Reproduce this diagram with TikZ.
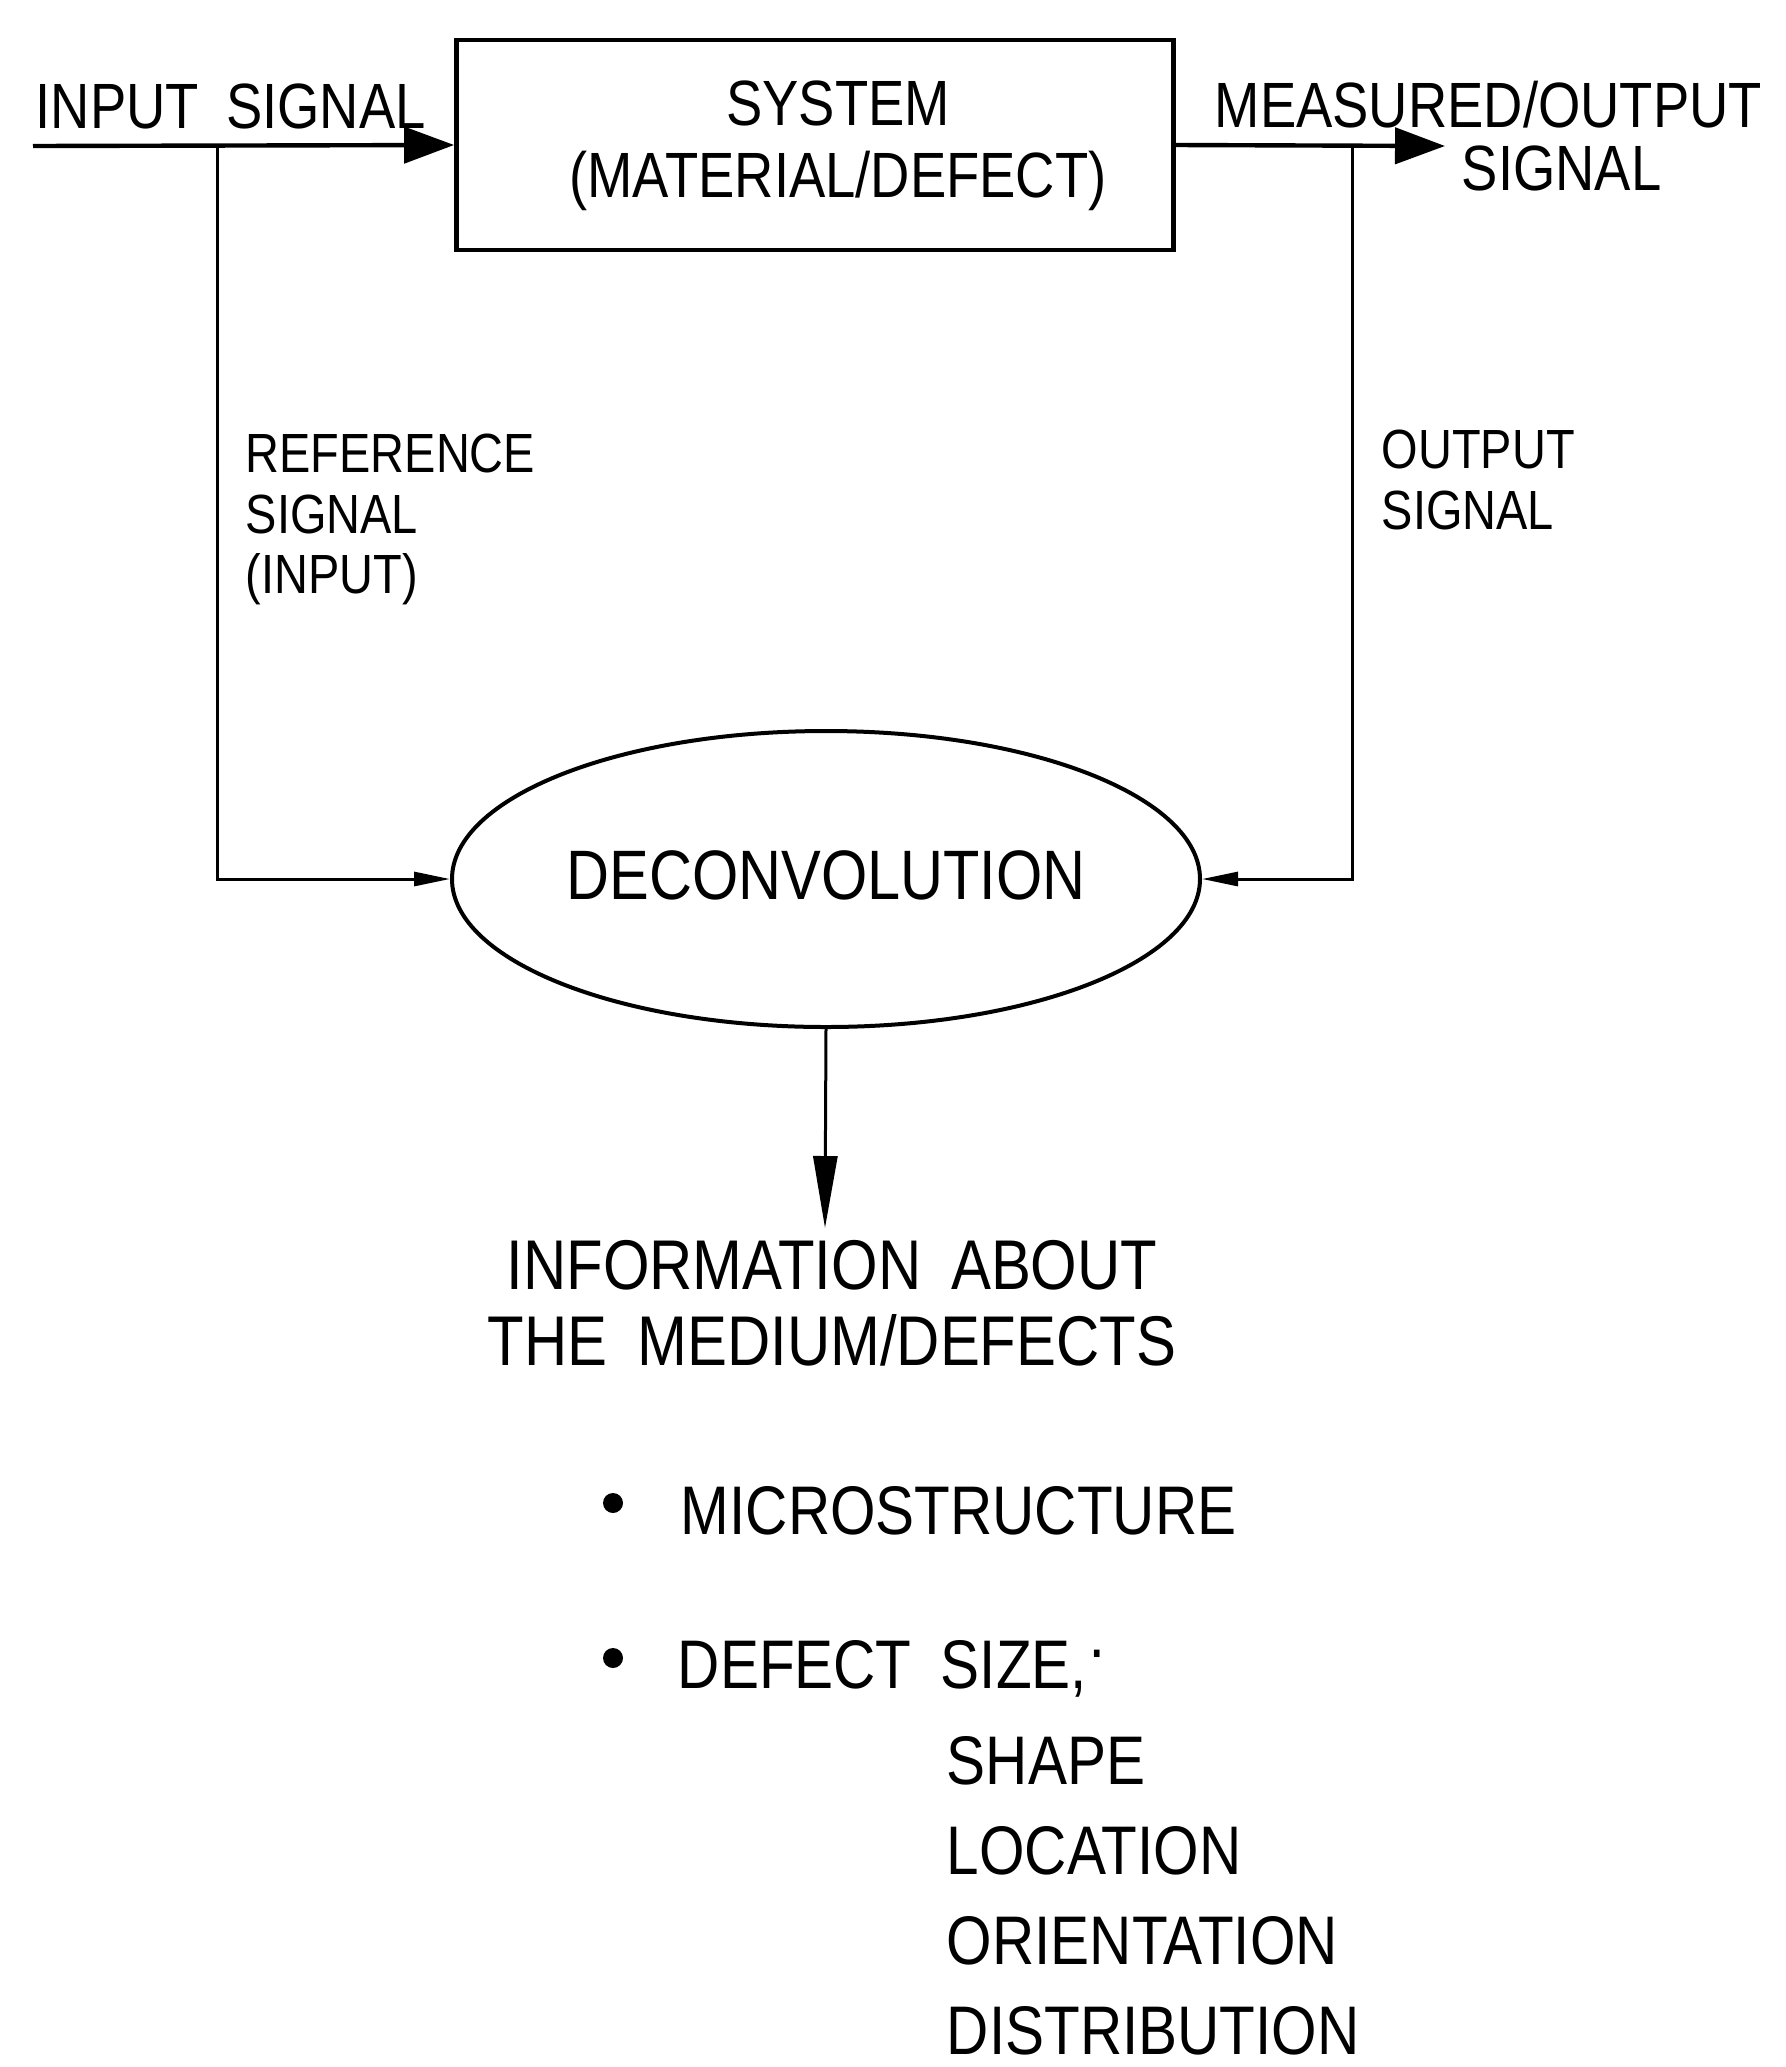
\documentclass[tikz,border=0pt]{standalone}
\usepackage{fontspec}
\setmainfont{Liberation Sans}[FakeStretch=0.85,WordSpace=1.8]
\usetikzlibrary{shapes.geometric,arrows.meta}

\tikzset{every picture/.style={line width=0.9pt}}

\begin{document}
\begin{tikzpicture}[x=0.25pt,y=0.25pt,yscale=-1,xscale=1,
  lbl/.style={inner sep=0pt,font=\fontsize{16}{18}\selectfont},
  side/.style={inner sep=0pt,align=left,font=\fontsize{13.8}{15.2}\selectfont},
  list/.style={inner sep=0pt,align=left,font=\fontsize{17.2}{22.5}\selectfont},
  sysbox/.style={draw,line width=1.2pt,rectangle,inner sep=0pt,minimum width=179.25pt,minimum height=52.5pt},
  oval/.style={draw,line width=1pt,ellipse,inner sep=0pt,minimum width=187pt,minimum height=74pt,font=\fontsize{17.5}{20}\selectfont},
  sig/.style={line width=1.1pt,-{Triangle[length=12.5pt,width=9pt]}},
  feed/.style={line width=0.75pt,-{Triangle[length=9pt,width=3.5pt]}},
  down/.style={line width=0.75pt,-{Triangle[length=18pt,width=6pt]}},
  dot/.style={circle,fill,inner sep=0pt,minimum size=5pt}]
%set diagram size to the 1786 x 2067 frame
\useasboundingbox (0,0) rectangle (1786,2067);

%Shape: System box
\node[sysbox] (sys) at (815,145) {};
%Shape: Deconvolution ellipse
\node[oval] (deconv) at (826,879) {\raisebox{2pt}{DECONVOLUTION}};

%Points on the signal line
\coordinate (in) at (33,146);
\coordinate (tapL) at (217,146);
\coordinate (tapR) at (1352,146);
\coordinate (outend) at (1445,146);
\coordinate (infotip) at (825,1228);

%Straight Lines
\draw[sig] (in) -- (sys.west);
\draw[sig] (sys.east) -- (outend);
\draw[feed] (tapL) |- (deconv.west);
\draw[feed] (tapR) |- (deconv.east);
\draw[down] (deconv.south) -- (infotip);

% Text Node
\node[lbl,anchor=base west] (insig) at (34,128) {INPUT SIGNAL};
% Text Node
\node[lbl,align=center] (systxt) at (838,146) {SYSTEM\\(MATERIAL/DEFECT)};
% Text Node
\node[lbl,anchor=base west] (meas) at (1213,127) {MEASURED/OUTPUT};
% Text Node
\node[lbl,anchor=base west] (meassig) at (1460,190) {SIGNAL};
% Text Node
\node[side,anchor=north west] (refsig) at (244,432) {REFERENCE\\SIGNAL\\(INPUT)};
% Text Node
\node[side,anchor=north west] (outsig) at (1380,428) {OUTPUT\\SIGNAL};
% Text Node
\node[inner sep=0pt,align=center,anchor=north,font=\fontsize{17.6}{18.8}\selectfont] (info) at (832,1239) {INFORMATION ABOUT\\THE MEDIUM/DEFECTS};

%Bullets
\node[dot] (b1) at (613,1503) {};
\node[dot] (b2) at (613,1658) {};
% Text Node
\node[list,anchor=base west] (micro) at (679,1534) {MICROSTRUCTURE};
% Text Node
\node[list,anchor=base west] (defect) at (676,1688) {DEFECT SIZE,\raisebox{4pt}{·}};
% Text Node
\node[list,anchor=north west] (props) at (945,1735) {SHAPE\\LOCATION\\ORIENTATION\\DISTRIBUTION};

\end{tikzpicture}
\end{document}
